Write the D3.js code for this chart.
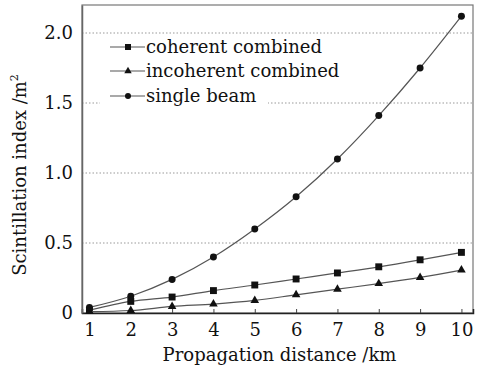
<!DOCTYPE html>
<html>
<head>
<meta charset="utf-8">
<script src="https://cdn.jsdelivr.net/npm/d3@7"></script>
<style>
  html, body { margin: 0; padding: 0; background: #fff; }
  svg { display: block; }
  text { font-family: "DejaVu Serif", "Liberation Serif", serif; fill: #111; }
</style>
</head>
<body>
<svg id="chart" width="485" height="368"></svg>
<script>
// Propagation distance (km)
const distances = [1, 2, 3, 4, 5, 6, 7, 8, 9, 10];
// Scintillation index per beam configuration
const coherent   = [0.02, 0.083, 0.114, 0.16, 0.20, 0.243, 0.286, 0.33, 0.38, 0.433];
const incoherent = [0.01, 0.018, 0.047, 0.064, 0.09, 0.13, 0.17, 0.21, 0.254, 0.307];
const single     = [0.04, 0.12, 0.24, 0.40, 0.60, 0.83, 1.10, 1.41, 1.75, 2.12];
const seriesNames = ["coherent combined", "incoherent combined", "single beam"];
const yTicks = [0, 0.5, 1.0, 1.5, 2.0];
const yTickLabels = ["0", "0.5", "1.0", "1.5", "2.0"];

const svg = d3.select("#chart");
const m = { left: 82, right: 473, top: 5, bottom: 313 };

const x = d3.scaleLinear().domain([0.82, 10.28]).range([m.left, m.right]);
const y = d3.scaleLinear().domain([0, 2.2]).range([m.bottom, m.top]);

// dotted grid lines
svg.append("g").selectAll("line")
  .data(yTicks.filter(d => d > 0))
  .join("line")
  .attr("x1", m.left).attr("x2", m.right)
  .attr("y1", d => y(d)).attr("y2", d => y(d))
  .attr("stroke", "#999").attr("stroke-width", 1)
  .attr("stroke-dasharray", "1.5,2");

// frame
svg.append("rect")
  .attr("x", m.left).attr("y", m.top)
  .attr("width", m.right - m.left).attr("height", m.bottom - m.top)
  .attr("fill", "none").attr("stroke", "#777").attr("stroke-width", 1.2);

// bottom axis with inward ticks
const xAxis = d3.axisBottom(x).tickValues(distances).tickSize(-4).tickPadding(10).tickFormat(d3.format("d"));
const gx = svg.append("g").attr("transform", `translate(0,${m.bottom})`).call(xAxis);
gx.select(".domain").attr("stroke", "#222").attr("stroke-width", 1.5);
gx.selectAll(".tick line").attr("stroke", "#444");
gx.selectAll("text").attr("font-size", 18).attr("font-family", "DejaVu Serif").attr("fill", "#111");

// left axis
const yAxis = d3.axisLeft(y).tickValues(yTicks).tickSize(0).tickPadding(9)
  .tickFormat((d, i) => yTickLabels[i]);
const gy = svg.append("g").attr("transform", `translate(${m.left},0)`).call(yAxis);
gy.select(".domain").attr("stroke", "#666").attr("stroke-width", 1.5);
gy.selectAll("text").attr("font-size", 18).attr("font-family", "DejaVu Serif").attr("fill", "#111");

// axis titles
svg.append("text")
  .attr("x", (m.left + m.right) / 2 + 2).attr("y", 361)
  .attr("text-anchor", "middle").attr("font-size", 18)
  .text("Propagation distance /km");

const yt = svg.append("text")
  .attr("transform", `translate(25.5,${(m.top + m.bottom) / 2 + 16}) rotate(-90)`)
  .attr("text-anchor", "middle").attr("font-size", 18);
yt.append("tspan").text("Scintillation index /m");
yt.append("tspan").attr("font-size", 11).attr("dy", -8).text("2");

// legend background covering grid
svg.append("rect")
  .attr("x", 100).attr("y", 36).attr("width", 168).attr("height", 72)
  .attr("fill", "#fff");

const line = d3.line().x((d, i) => x(distances[i])).y(d => y(d)).curve(d3.curveMonotoneX);
const allSeries = [coherent, incoherent, single];
const shapes = [d3.symbolSquare, d3.symbolTriangle, d3.symbolCircle];
const sizes = [48, 32, 38];

allSeries.forEach((vals, k) => {
  svg.append("path").datum(vals)
    .attr("d", line).attr("fill", "none")
    .attr("stroke", "#555").attr("stroke-width", 1.2);
  svg.append("g").selectAll("path")
    .data(vals).join("path")
    .attr("transform", (d, i) => `translate(${x(distances[i])},${y(d)})`)
    .attr("d", d3.symbol().type(shapes[k]).size(sizes[k]))
    .attr("fill", "#111");
});

// legend
const legendY = [47, 71, 96];
seriesNames.forEach((name, k) => {
  const g = svg.append("g").attr("transform", `translate(0,${legendY[k]})`);
  g.append("line").attr("x1", 110).attr("x2", 145).attr("y1", 0).attr("y2", 0)
    .attr("stroke", "#555").attr("stroke-width", 1.2);
  g.append("path").attr("transform", "translate(128,0)")
    .attr("d", d3.symbol().type(shapes[k]).size(sizes[k] * 0.75)).attr("fill", "#111");
  g.append("text").attr("x", 146).attr("y", 6).attr("font-size", 18).text(name);
});
</script>
</body>
</html>
